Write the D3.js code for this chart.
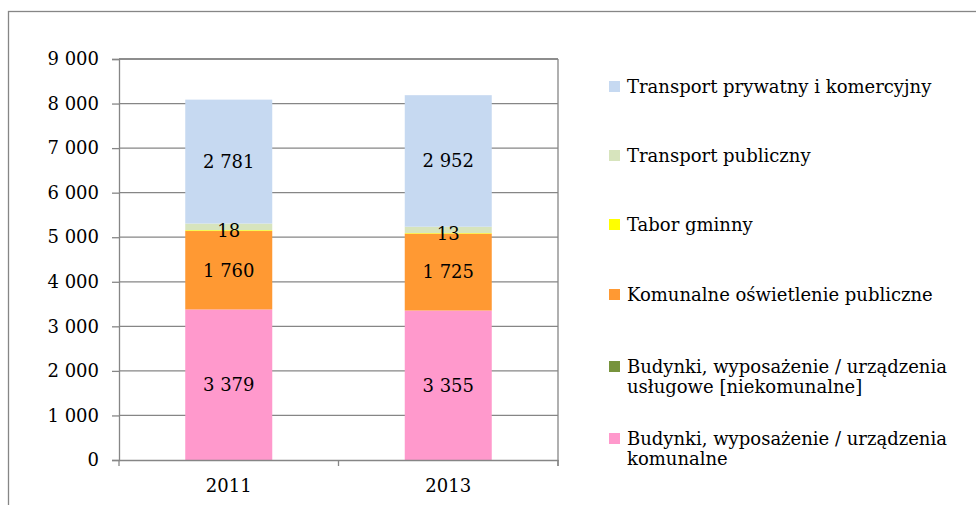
<!DOCTYPE html>
<html>
<head>
<meta charset="utf-8">
<script src="https://cdn.jsdelivr.net/npm/d3@7"></script>
<style>
  body { margin: 0; background: #fff; }
  text { font-family: "DejaVu Serif", serif; fill: #000; }
</style>
</head>
<body>
<script>
// data
const years = ["2011", "2013"];
const seriesNames = [
  "Budynki, wyposażenie / urządzenia komunalne",
  "Budynki, wyposażenie / urządzenia usługowe [niekomunalne]",
  "Komunalne oświetlenie publiczne",
  "Tabor gminny",
  "Transport publiczny",
  "Transport prywatny i komercyjny"
];
const budynkiKomunalne = [3379, 3355];
const budynkiUslugowe = [0, 0];
const oswietlenie = [1760, 1725];
const taborGminny = [18, 13];
const transportPubliczny = [150, 143];
const transportPrywatny = [2781, 2952];
const showLabel = [true, false, true, true, false, true];
const colors = ["#ff99cc", "#77933c", "#ff9933", "#ffff00", "#d7e4bd", "#c6d9f1"];
const yTicks = [0, 1000, 2000, 3000, 4000, 5000, 6000, 7000, 8000, 9000];

const fontSize = 18;

const rows = years.map((y, i) => ({
  year: y,
  s0: budynkiKomunalne[i],
  s1: budynkiUslugowe[i],
  s2: oswietlenie[i],
  s3: taborGminny[i],
  s4: transportPubliczny[i],
  s5: transportPrywatny[i]
}));
const keys = ["s0", "s1", "s2", "s3", "s4", "s5"];

const svg = d3.select("body")
  .append("svg")
  .attr("width", 976)
  .attr("height", 505);

// outer chart frame
svg.append("rect")
  .attr("x", 8.5)
  .attr("y", 11.5)
  .attr("width", 980)
  .attr("height", 510)
  .style("fill", "none")
  .style("stroke", "#868686")
  .style("stroke-width", 1.3);

const plotLeft = 119, plotRight = 558, plotTop = 59, plotBottom = 460;

const x = d3.scaleBand().domain(years).range([plotLeft, plotRight]);
const y = d3.scaleLinear().domain([0, 9000]).range([plotBottom, plotTop]);
const barW = 87;

const fmt = d3.formatLocale({ decimal: ",", thousands: "\u00a0", grouping: [3], currency: ["", ""] }).format(",d");

// gridlines
svg.append("g")
  .selectAll("line")
  .data(yTicks.slice(1))
  .enter()
  .append("line")
  .attr("x1", plotLeft)
  .attr("x2", plotRight)
  .attr("y1", d => y(d))
  .attr("y2", d => y(d))
  .attr("stroke", "#868686")
  .attr("stroke-width", 1.3);

const stacked = d3.stack().keys(keys)(rows);

const layers = svg.append("g")
  .selectAll("g")
  .data(stacked)
  .enter()
  .append("g")
  .attr("fill", (d, i) => colors[i]);

layers.selectAll("rect")
  .data(d => d)
  .enter()
  .append("rect")
  .attr("x", d => x(d.data.year) + x.bandwidth() / 2 - barW / 2)
  .attr("width", barW)
  .attr("y", d => y(d[1]))
  .attr("height", d => y(d[0]) - y(d[1]));

// value labels
stacked.forEach((layer, k) => {
  if (!showLabel[k]) return;
  svg.append("g")
    .selectAll("text")
    .data(layer)
    .enter()
    .append("text")
    .attr("x", d => x(d.data.year) + x.bandwidth() / 2)
    .attr("y", d => y((d[0] + d[1]) / 2))
    .attr("dy", "0.35em")
    .attr("text-anchor", "middle")
    .style("font-size", fontSize + "px")
    .text(d => fmt(d[1] - d[0]));
});

// plot border top & right
svg.append("line")
  .attr("x1", plotLeft).attr("x2", plotRight)
  .attr("y1", plotTop).attr("y2", plotTop)
  .attr("stroke", "#868686").attr("stroke-width", 1.3);
svg.append("line")
  .attr("x1", plotRight).attr("x2", plotRight)
  .attr("y1", plotTop).attr("y2", plotBottom + 6)
  .attr("stroke", "#868686").attr("stroke-width", 1.3);

// y axis
const yAxis = svg.append("g")
  .attr("transform", `translate(${plotLeft},0)`)
  .call(d3.axisLeft(y).tickValues(yTicks).tickSize(7).tickPadding(13).tickFormat(fmt));
yAxis.select(".domain").attr("stroke", "#868686").attr("stroke-width", 1.3);
yAxis.selectAll(".tick line").attr("stroke", "#868686").attr("stroke-width", 1.3);
yAxis.selectAll("text").style("font-size", fontSize + "px").style("font-family", "DejaVu Serif").attr("fill", "#000");

// x axis
const xAxis = svg.append("g")
  .attr("transform", `translate(0,${plotBottom})`)
  .call(d3.axisBottom(x).tickSize(0).tickPadding(19));
xAxis.select(".domain").attr("stroke", "#868686").attr("stroke-width", 1.3);
xAxis.selectAll("text").style("font-size", fontSize + "px").style("font-family", "DejaVu Serif").attr("fill", "#000");
// ticks at band edges
svg.append("g")
  .selectAll("line")
  .data([plotLeft, x("2013"), plotRight])
  .enter()
  .append("line")
  .attr("x1", d => d).attr("x2", d => d)
  .attr("y1", plotBottom).attr("y2", plotBottom + 6)
  .attr("stroke", "#868686").attr("stroke-width", 1.3);

// legend
const legendItems = [
  { k: 5, y: 87, lines: ["Transport prywatny i komercyjny"] },
  { k: 4, y: 156, lines: ["Transport publiczny"] },
  { k: 3, y: 225, lines: ["Tabor gminny"] },
  { k: 2, y: 295, lines: ["Komunalne oświetlenie publiczne"] },
  { k: 1, y: 367, lines: ["Budynki, wyposażenie / urządzenia", "usługowe [niekomunalne]"] },
  { k: 0, y: 439, lines: ["Budynki, wyposażenie / urządzenia", "komunalne"] }
];
const legend = svg.append("g")
  .selectAll("g")
  .data(legendItems)
  .enter()
  .append("g")
  .attr("transform", d => `translate(609,${d.y})`);
legend.append("rect")
  .attr("x", 0).attr("y", -6)
  .attr("width", 11).attr("height", 11)
  .attr("fill", d => colors[d.k]);
legend.append("text")
  .style("font-size", fontSize + "px")
  .selectAll("tspan")
  .data(d => d.lines)
  .enter()
  .append("tspan")
  .attr("x", 18)
  .attr("y", (d, i) => i * 20)
  .attr("dy", "0.35em")
  .text(d => d);
</script>
</body>
</html>
